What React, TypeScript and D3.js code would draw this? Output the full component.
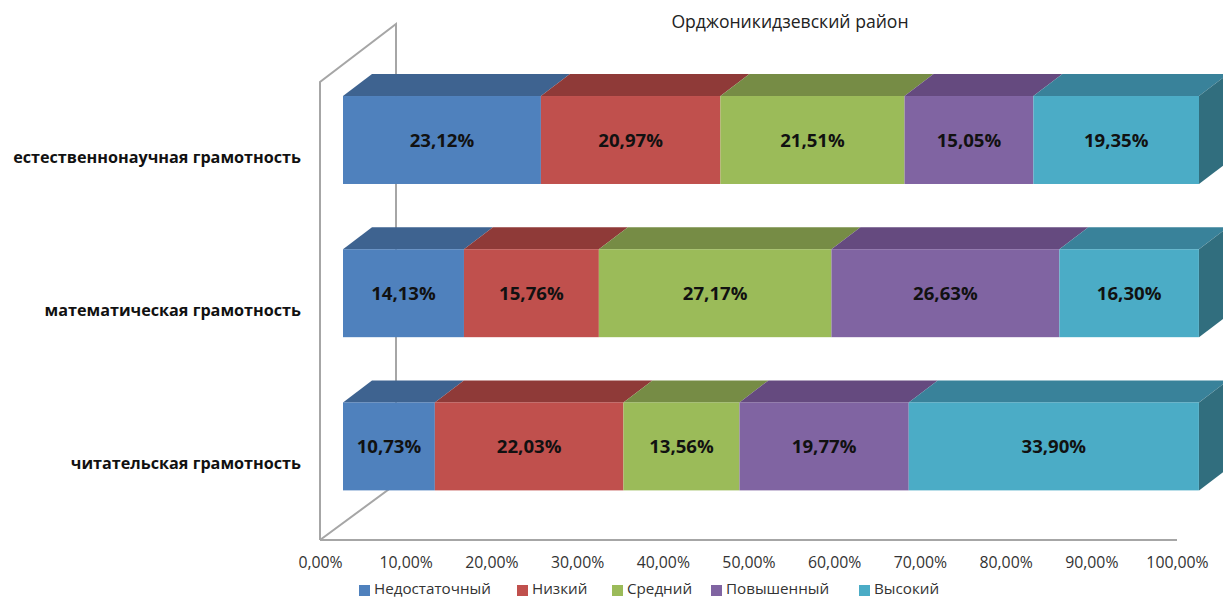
import { useEffect, useRef } from 'react';
import * as d3 from 'd3';

const categories = ['естественнонаучная грамотность', 'математическая грамотность', 'читательская грамотность'];
const levels = ['Недостаточный', 'Низкий', 'Средний', 'Повышенный', 'Высокий'];
const nedostatochny = [23.12, 14.13, 10.73];
const nizky = [20.97, 15.76, 22.03];
const sredny = [21.51, 27.17, 13.56];
const povyshenny = [15.05, 26.63, 19.77];
const vysoky = [19.35, 16.30, 33.90];
const seriesValues = [nedostatochny, nizky, sredny, povyshenny, vysoky];
const ticks = [0, 10, 20, 30, 40, 50, 60, 70, 80, 90, 100];

const colors = ['#4f81bd', '#c0504d', '#9bbb59', '#8064a2', '#4bacc6'];
const topColors = ['#3e6390', '#8f3a38', '#768c45', '#654a7f', '#39829a'];
const sideColor = '#316e7e';
const wallColor = '#a6a6a6';
const font = '"Open Sans", "Noto Sans", sans-serif';

const App = () => {
  const svgRef = useRef<SVGSVGElement>(null);

  useEffect(() => {
    if (!svgRef.current) return;
    const svg = d3.select(svgRef.current);
    svg.selectAll('*').remove();

    // front plane of the bars, the floor sits offset from it
    const x = d3.scaleLinear().domain([0, 100]).range([343, 1199]);
    const axisX = d3.scaleLinear().domain([0, 100]).range([320, 1177]);
    const y = d3.scaleBand().domain(categories).range([63.4, 523]).paddingInner(0.4258).paddingOuter(0.2129);
    const depth = { x: 29, y: -22 };

    const rows = categories.map((c, i) => {
      const row: Record<string, any> = { category: c };
      levels.forEach((l, k) => { row[l] = seriesValues[k][i]; });
      return row;
    });
    const stacked = d3.stack().keys(levels)(rows as any);

    // walls
    const line = d3.line();
    svg.append('path')
      .attr('d', line([[320, 540], [320, 82], [396, 24], [396, 484], [320, 540]]))
      .attr('fill', 'none').attr('stroke', wallColor).attr('stroke-width', 2);
    svg.append('path')
      .attr('d', line([[320, 540], [1177, 540]]))
      .attr('fill', 'none').attr('stroke', wallColor).attr('stroke-width', 2);

    // bars: top faces, end face, then front faces
    categories.forEach((c, i) => {
      const top = y(c) as number;
      const h = y.bandwidth();
      stacked.forEach((s, k) => {
        const x0 = x(s[i][0]);
        const x1 = x(s[i][1]);
        svg.append('path')
          .attr('d', line([[x0, top], [x0 + depth.x, top + depth.y], [x1 + depth.x, top + depth.y], [x1, top]]) + 'Z')
          .attr('fill', topColors[k]);
      });
      const end = x(100);
      svg.append('path')
        .attr('d', line([[end, top], [end + depth.x, top + depth.y], [end + depth.x, top + depth.y + h], [end, top + h]]) + 'Z')
        .attr('fill', sideColor);
      stacked.forEach((s, k) => {
        const x0 = x(s[i][0]);
        const x1 = x(s[i][1]);
        svg.append('rect')
          .attr('x', x0).attr('y', top).attr('width', x1 - x0).attr('height', h)
          .attr('fill', colors[k]);
        svg.append('text')
          .attr('x', (x0 + x1) / 2).attr('y', top + h / 2 + 6.5)
          .attr('text-anchor', 'middle')
          .attr('font-family', font).attr('font-size', 18.6).attr('font-weight', 700)
          .attr('fill', '#111')
          .text(`${seriesValues[k][i].toFixed(2).replace('.', ',')}%`);
      });
      svg.append('text')
        .attr('x', 301).attr('y', top + h / 2 + 23)
        .attr('text-anchor', 'end')
        .attr('font-family', font).attr('font-size', 16.2).attr('font-weight', 700)
        .attr('fill', '#111')
        .text(c);
    });

    // x axis labels
    const axis = svg.append('g')
      .attr('transform', 'translate(0,540)')
      .call(d3.axisBottom(axisX).tickValues(ticks).tickSize(0).tickPadding(17)
        .tickFormat(d => `${(+d).toFixed(2).replace('.', ',')}%`));
    axis.select('.domain').remove();
    axis.selectAll('text')
      .attr('font-family', font).style('font-size', '15.8px').attr('fill', '#333');

    // title
    svg.append('text')
      .attr('x', 790).attr('y', 28)
      .attr('text-anchor', 'middle')
      .attr('font-family', font).attr('font-size', 17.6).attr('fill', '#222')
      .text('Орджоникидзевский район');

    // legend
    const legendX = [359, 517, 612, 711, 859];
    levels.forEach((l, k) => {
      svg.append('rect')
        .attr('x', legendX[k]).attr('y', 585).attr('width', 11).attr('height', 11)
        .attr('fill', colors[k]);
      svg.append('text')
        .attr('x', legendX[k] + 15).attr('y', 594)
        .attr('font-family', font).attr('font-size', 15.2).attr('fill', '#333')
        .text(l);
    });
  }, []);

  return (
    <svg
      ref={svgRef}
      width={1223}
      height={598}
      style={{ position: 'absolute', left: 0, top: 0, background: '#fff' }}
    />
  );
};

export default App;
